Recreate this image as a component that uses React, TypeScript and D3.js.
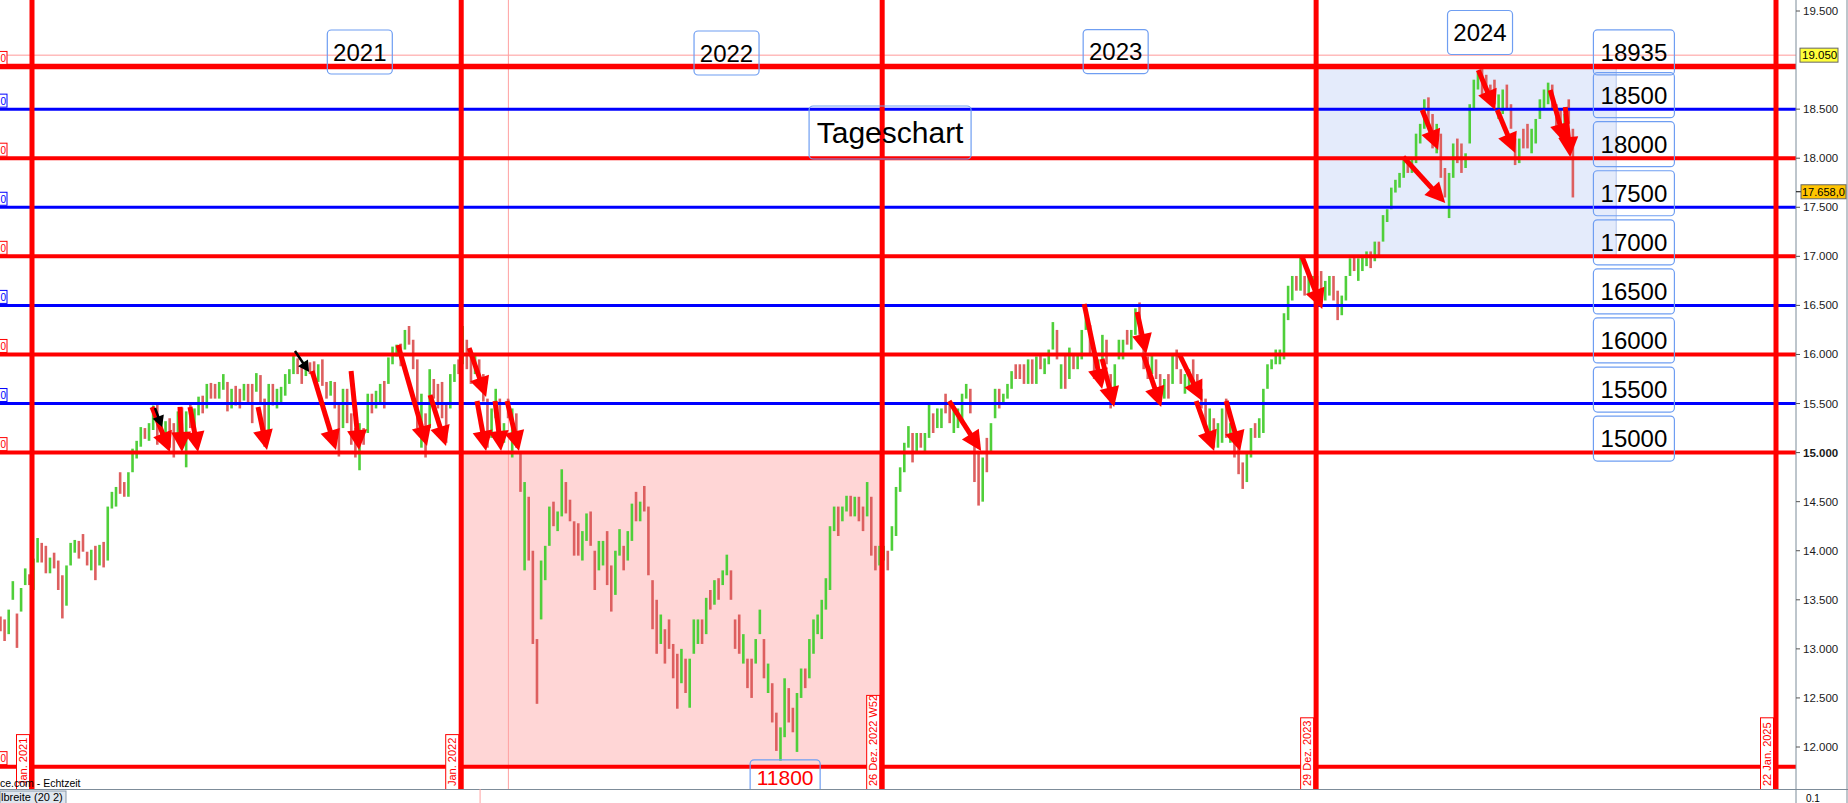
import React from "react";
import * as d3 from "d3";

// ---------- DATA ----------
// Half-week price bars (DAX), starting week of 7 Dec 2020, two bars per week, up to 2 Aug 2024
const barHigh: number[] = [
  // Dec 2020
  13330, 13300, 13400, 13690, 13360, 13620, 13820, 13760,
  // 2021
  13920, 14130, 14080, 14050, 13930, 13980, 13900, 13750,
  13850, 14080, 14110, 14100, 14170, 13990, 14010, 14050,
  14060, 14090, 14450, 14600, 14650, 14800, 14700, 14800, 15040, 15120,
  15260, 15250, 15300, 15480, 15500, 15340, 15320, 15350,
  15300, 15420, 15460, 15420, 15500, 15450, 15570, 15580, 15700, 15710,
  15700, 15720, 15800, 15720, 15650, 15680, 15650, 15700,
  15700, 15700, 15810, 15790, 15550, 15700, 15700, 15650,
  15670, 15800, 15850, 15990, 15960, 15880, 15930, 15920, 15930, 15900,
  15950, 15720, 15730, 15720, 15500, 15650, 15650, 15400,
  15250, 15300, 15250, 15600, 15600, 15630, 15700, 15730,
  15970, 16080, 16100, 16110, 16250, 16290, 16150, 15950, 15600, 15400,
  15850, 15750, 15700, 15720, 15500, 15800, 15900, 15950,
  // 2022
  16290, 16150, 16050, 16000, 15950, 15800, 15550, 15450, 15650, 15550,
  15300, 15550, 15450, 15400, 15000, 14700, 14550, 14000,
  13100, 13900, 14050, 14450, 14500, 14400, 14830, 14700,
  14520, 14300, 14280, 14200, 14380, 14400, 14000, 14100,
  14100, 14200, 13850, 14000, 14220, 14050, 14200, 14480, 14600, 14500,
  14660, 14450, 13700, 13500, 13350, 13200, 13300, 13050,
  12950, 13000, 12900, 12900, 13300, 13300, 13300, 13520,
  13600, 13700, 13720, 13800, 13960, 13800, 13300, 13350, 13150, 12900,
  12900, 13100, 13400, 13100, 12850, 12650, 12350, 12200,
  12700, 12600, 12400, 12550, 12800, 12800, 13100, 13300, 13350, 13500,
  13720, 14250, 14450, 14450, 14450, 14560, 14560, 14550,
  14550, 14450, 14700, 14550, 14050, 14050, 14050, 14000,
  // 2023
  14250, 14650, 14850, 15100, 15270, 15200, 15200, 15200, 15200, 15500,
  15400, 15450, 15450, 15600, 15500, 15450, 15450, 15600,
  15700, 15650, 15100, 15000, 14950, 15150, 15300, 15650,
  15650, 15600, 15700, 15830, 15900, 15900, 15900, 15950,
  15950, 15980, 16000, 15960, 16050, 16330, 16250, 15900, 16000, 16070,
  16000, 16000, 16250, 16430, 16300, 16050, 15950, 16200,
  16150, 15800, 15900, 16150, 16150, 16250, 16250, 16470, 16530, 16100,
  15980, 16000, 15950, 15800, 15750, 15800, 16000, 16050,
  15850, 15800, 15850, 15950, 15800, 15650, 15550, 15450,
  15350, 15300, 15450, 15550, 15300, 15250, 15050, 14900, 15000, 15250,
  15300, 15350, 15650, 15900, 15950, 16050, 16050, 16420,
  16700, 16800, 16800, 17010, 16800, 16800, 16800, 16800,
  // 2024
  16850, 16750, 16800, 16800, 16650, 16600, 16800, 16980, 17000, 16980,
  17000, 17050, 17050, 17150, 17150, 17420, 17480, 17700,
  17780, 17850, 17980, 18000, 18000, 18250, 18350, 18600,
  18620, 18450, 18350, 18250, 17900, 17850, 18150, 18200, 18150, 18050,
  18550, 18800, 18870, 18930, 18850, 18750, 18800, 18650,
  18700, 18750, 18550, 18200, 18200, 18300, 18350, 18300,
  18400, 18600, 18700, 18770, 18750, 18550, 18500, 18450, 18600, 18300,
];

const barLow: number[] = [
  // Dec 2020
  13180, 13080, 13150, 13500, 13010, 13380, 13650, 13650,
  // 2021
  13600, 13880, 13880, 13770, 13770, 13820, 13600, 13310,
  13440, 13850, 13980, 13920, 13990, 13850, 13800, 13700,
  13850, 13830, 13900, 14430, 14450, 14580, 14550, 14550, 14800, 14940,
  15060, 15140, 15120, 15230, 15080, 15120, 15200, 15050,
  14950, 15150, 15050, 14850, 15250, 15150, 15380, 15400, 15450, 15550,
  15550, 15550, 15640, 15420, 15450, 15480, 15450, 15530,
  15500, 15300, 15620, 15500, 15060, 15200, 15480, 15450,
  15500, 15580, 15700, 15800, 15800, 15700, 15780, 15800, 15780, 15720,
  15680, 15550, 15580, 15450, 14960, 15250, 15300, 15080,
  14950, 14820, 15080, 15200, 15400, 15450, 15500, 15450,
  15700, 15900, 15980, 15880, 16050, 16100, 15850, 15250, 15050, 14950,
  15250, 15550, 15450, 15350, 15100, 15450, 15720, 15800,
  // 2022
  15900, 15850, 15700, 15800, 15700, 15520, 15050, 15150, 15350, 15100,
  15100, 15350, 14950, 15050, 14600, 13800, 13900, 13050,
  12440, 13300, 13700, 14050, 14250, 14200, 14350, 14380,
  14300, 13950, 13950, 13900, 14100, 14050, 13600, 13800,
  13850, 13650, 13380, 13550, 13950, 13800, 13900, 14100, 14300, 14300,
  14400, 13750, 13200, 12950, 13050, 12850, 13000, 12700,
  12390, 12650, 12550, 12400, 12950, 13050, 13050, 13150,
  13400, 13450, 13500, 13650, 13750, 13500, 13000, 12950, 12850, 12600,
  12500, 12850, 13150, 12700, 12550, 12250, 11960, 11860,
  12100, 12250, 12150, 11950, 12500, 12600, 12700, 12950, 13150, 13100,
  13400, 13600, 14200, 14150, 14300, 14400, 14350, 14350,
  14300, 14200, 14350, 13950, 13800, 13850, 13900, 13800,
  // 2023
  14000, 14150, 14600, 14800, 15050, 14900, 15000, 15050, 15000, 15150,
  15200, 15250, 15250, 15400, 15300, 15200, 15250, 15300,
  15550, 15400, 14700, 14460, 14500, 14800, 15000, 15350,
  15450, 15500, 15550, 15650, 15750, 15750, 15700, 15700,
  15700, 15700, 15850, 15800, 15900, 16050, 15950, 15650, 15650, 15750,
  15850, 15850, 15950, 16250, 16000, 15750, 15750, 15900,
  15900, 15450, 15650, 15950, 15950, 16100, 16050, 16200, 16200, 15850,
  15750, 15800, 15750, 15500, 15550, 15550, 15700, 15850,
  15700, 15600, 15650, 15650, 15600, 15450, 15250, 15150,
  15050, 15050, 15100, 15150, 15100, 14950, 14780, 14630, 14700, 14950,
  15150, 15150, 15200, 15650, 15850, 15900, 15900, 15950,
  16350, 16550, 16650, 16650, 16600, 16600, 16700, 16700,
  // 2024
  16600, 16550, 16600, 16550, 16350, 16400, 16550, 16800, 16850, 16750,
  16850, 16900, 16880, 16950, 17000, 17150, 17350, 17480,
  17650, 17700, 17800, 17850, 17850, 17950, 18150, 18300,
  18300, 18100, 18050, 17800, 17600, 17390, 17800, 17950, 17850, 17900,
  18150, 18500, 18700, 18650, 18650, 18550, 18550, 18400,
  18450, 18500, 18300, 17930, 17950, 18100, 18100, 18050,
  18150, 18400, 18500, 18550, 18500, 18300, 18200, 18150, 18350, 17600,
];

// U = rising bar (green), D = falling bar (red)
const barDir: string = [
  "DDUUDUUD",
  "UUDDUDDD", "UUUDDDUD", "UDUUUDDUUU", "UDUUDUUD", "DUDUDUUDUD", "DUUDUDDU",
  "DDUDDUDU", "UUUUDDUDDU", "DDUDDUDD", "DUDUDUUD", "UUUDUDDDUD", "UDDDDUUD",
  "UDDUDDDUUD", "UDUDDUDD", "DUUUDUUD", "DDDUUDDU", "UDDUUDUUDU", "DDDDUDDD",
  "DUDUUUDU", "DUDUUDDDUD", "DUUDUDDU", "UDDUUDUUUU", "UUUDUUDU", "DDUDDUUD",
  "UUUUUDUDUU", "DUUDDUUU", "UDDDUDUU", "DUUUDDDU", "DUDUUUDUDU", "DUUUDDUU",
  "DDUUUDUUDD", "DUDDUDUD", "DUUDDDDU", "DUUDUDDDUU", "DUUUUUUU", "UUDUDUUD",
  "DUUDDUUUDU", "UUDUDUUU", "UUUDUUUU", "DDUDDUUDDU", "UUUDDDDU", "UDDDUDDU",
  "UUUUDDDUDD",
].join("");

const firstBarDay = -26.75; // days relative to 4 Jan 2021
const barStepDays = 3.5;

const redLevels = [18935, 18000, 17000, 16000, 15000, 11800];
const blueLevels = [18500, 17500, 16500, 15500];
const boxLevels = [18935, 18500, 18000, 17500, 17000, 16500, 16000, 15500, 15000];
const pinkLevel = 19050;
const lastPrice = 17658;

const yTicks = [19500, 18500, 18000, 17500, 17000, 16500, 16000, 15500, 15000, 14500, 14000, 13500, 13000, 12500, 12000];

// separator lines (days from 4 Jan 2021) and their date flags
const sepDays = [0, 364, 721, 1089, 1479];
const sepLabels = ["Jan. 2021", "Jan. 2022", "26 Dez. 2022 W52", "29 Dez. 2023", "22 Jan. 2025"];
const cursorDay = 404;

// shaded zones: [day0, day1, low, high]
const zones: [number, number, number, number][] = [
  [364, 719, 11800, 15000],
  [1089, 1343.5, 17000, 18935],
];

// year labels
const yearLabels = ["2021", "2022", "2023", "2024"];
const yearDays = [278, 589, 919, 1228];
const yearVals = [19082, 19072, 19087, 19281];

// red arrows [day1, value1, day2, value2]
const arrowsRed: [number, number, number, number][] = [
  [101.8, 15465, 117, 15006],
  [125.5, 15465, 127.2, 15006],
  [134, 15465, 140.8, 15006],
  [191.7, 15465, 199.3, 15026],
  [237.5, 15832, 257.8, 15026],
  [270.6, 15832, 277.4, 15026],
  [310.4, 16096, 335, 15067],
  [337.6, 15587, 351.1, 15067],
  [370.7, 16066, 385.1, 15567],
  [377.4, 15526, 385.1, 15016],
  [392.7, 15526, 397.8, 15016],
  [402.9, 15526, 413, 15016],
  [777.8, 15526, 804.9, 15016],
  [892.3, 16514, 907.5, 15648],
  [907.5, 15954, 917.7, 15465],
  [937.2, 16433, 944.9, 16005],
  [942.3, 16005, 957.6, 15465],
  [972.9, 16005, 992.4, 15526],
  [987.3, 15526, 1002.5, 15016],
  [1012.7, 15526, 1024.6, 15016],
  [1077.2, 16993, 1094.2, 16463],
  [1179, 18491, 1192.5, 18084],
  [1162.9, 18012, 1198.5, 17544],
  [1226.5, 18899, 1240.9, 18491],
  [1242.6, 18491, 1257.8, 18053],
  [1287.5, 18695, 1300.3, 18150],
  [1300.3, 18522, 1304.5, 18012],
];
const arrowsBlack: [number, number, number, number][] = [
  [104.3, 15455, 110.3, 15261],
  [223, 16035, 235, 15821],
];

// ---------- LAYOUT ----------
const W = 1848;
const H = 803;
const PR = 1796; // plot right
const PB = 789; // plot bottom
const FONT = "'Liberation Sans', Arial, Helvetica, sans-serif";

const fmtDE = (v: number) => d3.format(",.0f")(v).replace(/,/g, ".");

function Arrow({ x1, y1, x2, y2, color, w, head, hw }: any) {
  const a = Math.atan2(y2 - y1, x2 - x1);
  const bx = x2 - head * Math.cos(a);
  const by = y2 - head * Math.sin(a);
  const px = -Math.sin(a) * hw;
  const py = Math.cos(a) * hw;
  return (
    <g>
      <line x1={x1} y1={y1} x2={bx + Math.cos(a) * 2} y2={by + Math.sin(a) * 2} stroke={color} strokeWidth={w} />
      <polygon points={`${x2},${y2} ${bx + px},${by + py} ${bx - px},${by - py}`} fill={color} />
    </g>
  );
}

function TextBox({ cx, cy, w, h, text, size, color = "#000" }: any) {
  return (
    <g>
      <rect x={cx - w / 2} y={cy - h / 2} width={w} height={h} rx={4} fill="none" stroke="#6f9ef2" strokeWidth={1.2} />
      <text x={cx} y={cy} textAnchor="middle" dominantBaseline="central" fontSize={size} fill={color} fontFamily={FONT}>
        {text}
      </text>
    </g>
  );
}

export default function App() {
  const x = d3.scaleLinear().domain([0, 1479]).range([32, 1776]);
  const y = d3.scaleLinear().domain([12000, 19500]).range([747, 11]);

  const n = Math.min(barHigh.length, barLow.length, barDir.length);
  const bars = d3.range(n).map((i) => ({
    x: x(firstBarDay + i * barStepDays),
    hi: y(barHigh[i]),
    lo: y(barLow[i]),
    up: barDir[i] === "U",
  }));

  return (
    <svg
      width={W}
      height={H}
      style={{ position: "absolute", left: 0, top: 0, background: "#fff" }}
      fontFamily={FONT}
    >
      <defs>
        <clipPath id="plotclip">
          <rect x={0} y={0} width={PR} height={PB} />
        </clipPath>
      </defs>
      <rect x={0} y={0} width={W} height={H} fill="#fff" />

      <g clipPath="url(#plotclip)">
        {/* zones */}
        <rect
          x={x(zones[0][0])}
          y={y(zones[0][3])}
          width={x(zones[0][1]) - x(zones[0][0])}
          height={y(zones[0][2]) - y(zones[0][3])}
          fill="#ffd6d6"
          stroke="#f06a6a"
          strokeWidth={1}
        />
        <rect
          x={x(zones[1][0])}
          y={y(zones[1][3])}
          width={x(zones[1][1]) - x(zones[1][0])}
          height={y(zones[1][2]) - y(zones[1][3])}
          fill="#e4ebfb"
          stroke="#b4c6ee"
          strokeWidth={1}
        />

        {/* thin pink marker lines */}
        <line x1={0} x2={PR} y1={y(pinkLevel)} y2={y(pinkLevel)} stroke="#ff9a9a" strokeWidth={1} />
        <line x1={x(cursorDay)} x2={x(cursorDay)} y1={0} y2={PB} stroke="#ffa0a0" strokeWidth={1} />

        {/* price bars */}
        {bars.map((b, i) => (
          <line
            key={i}
            x1={b.x}
            x2={b.x}
            y1={b.hi}
            y2={b.lo}
            stroke={b.up ? "#4fcf3a" : "#dd5f5f"}
            strokeWidth={2.6}
          />
        ))}

        {/* horizontal levels */}
        {blueLevels.map((v) => (
          <line key={"b" + v} x1={0} x2={PR} y1={y(v)} y2={y(v)} stroke="#0000ff" strokeWidth={3} />
        ))}
        {redLevels.map((v, i) => (
          <line key={"r" + v} x1={0} x2={PR} y1={y(v)} y2={y(v)} stroke="#ff0000" strokeWidth={i === 0 ? 5.5 : 4} />
        ))}

        {/* vertical separators */}
        {sepDays.map((d) => (
          <line key={"v" + d} x1={x(d)} x2={x(d)} y1={0} y2={PB} stroke="#ff0000" strokeWidth={5} />
        ))}

        {/* left edge price flags */}
        {[...redLevels.map((v) => ({ v, c: "#ff0000" })), ...blueLevels.map((v) => ({ v, c: "#0000ff" }))].map((f) => (
          <g key={"lf" + f.v}>
            <rect x={-40} y={y(f.v) - 15} width={47} height={13} fill="#fff" stroke={f.c} strokeWidth={1} />
            <text x={0.5} y={y(f.v) - 4.5} fontSize={10} fill={f.c}>
              0
            </text>
          </g>
        ))}

        {/* date flags */}
        {sepLabels.map((t, i) => {
          const lx = x(sepDays[i]) - 2.5;
          const len = t.length * 5.6 + 4;
          return (
            <g key={"dl" + i}>
              <rect x={lx - 13} y={PB - len} width={13} height={len + 4} fill="#fff" stroke="#ff0000" strokeWidth={1} />
              <text
                transform={`translate(${lx - 2.5},${PB - 3}) rotate(-90)`}
                fontSize={11}
                fill="#ff0000"
                textAnchor="start"
              >
                {t}
              </text>
            </g>
          );
        })}

        {/* arrows */}
        {arrowsRed.map((a, i) => (
          <Arrow key={"ar" + i} x1={x(a[0])} y1={y(a[1])} x2={x(a[2])} y2={y(a[3])} color="#ff0000" w={5} head={20} hw={10} />
        ))}
        {arrowsBlack.map((a, i) => (
          <Arrow key={"ab" + i} x1={x(a[0])} y1={y(a[1])} x2={x(a[2])} y2={y(a[3])} color="#000" w={2.5} head={11} hw={6} />
        ))}

        {/* annotation boxes */}
        {yearLabels.map((t, i) => (
          <TextBox key={"yl" + t} cx={x(yearDays[i])} cy={y(yearVals[i])} w={65} h={44} text={t} size={24} />
        ))}
        {boxLevels.map((v) => (
          <TextBox key={"bx" + v} cx={x(1358.5)} cy={y(v) - 14} w={81} h={45} text={String(v)} size={24} />
        ))}
        <TextBox cx={x(727.7)} cy={y(18262)} w={162} h={53} text="Tageschart" size={30} />
        <TextBox cx={x(638.7)} cy={y(11686)} w={70} h={36} text="11800" size={21} color="#ff0000" />

        <text x={0} y={787} fontSize={10.5} fill="#000">
          ce.com - Echtzeit
        </text>
      </g>

      {/* axes frame */}
      <line x1={PR} x2={PR} y1={0} y2={H} stroke="#7d8c99" strokeWidth={1} />
      <line x1={0} x2={W} y1={PB + 0.5} y2={PB + 0.5} stroke="#7d8c99" strokeWidth={1} />
      <line x1={W - 1} x2={W - 1} y1={0} y2={H} stroke="#7d8c99" strokeWidth={1} />
      <line x1={x(380)} x2={x(380)} y1={PB} y2={H} stroke="#ffa0a0" strokeWidth={1} />

      {/* right axis */}
      {yTicks.map((v) => (
        <g key={"t" + v}>
          <line x1={PR} x2={PR + 4} y1={y(v)} y2={y(v)} stroke="#555" />
          <text
            x={PR + 7}
            y={y(v)}
            dominantBaseline="central"
            fontSize={11.5}
            fill="#1a1a1a"
            fontWeight={v === 15000 ? "bold" : "normal"}
          >
            {fmtDE(v)}
          </text>
        </g>
      ))}
      <rect x={PR + 4} y={y(pinkLevel) - 7} width={38} height={14} fill="#ffff3a" stroke="#666" strokeWidth={1} />
      <text x={PR + 6} y={y(pinkLevel)} dominantBaseline="central" fontSize={11.5} fill="#000">
        {fmtDE(pinkLevel)}
      </text>
      <line x1={PR} x2={PR + 5} y1={y(lastPrice)} y2={y(lastPrice)} stroke="#000" />
      <rect x={PR + 5} y={y(lastPrice) - 7} width={45} height={14} fill="#ffc400" stroke="#666" strokeWidth={1} />
      <text x={PR + 6} y={y(lastPrice)} dominantBaseline="central" fontSize={11} fill="#000">
        {fmtDE(lastPrice)},0
      </text>

      {/* bottom status */}
      <rect x={0} y={PB + 2} width={66} height={14} fill="#dfe6ee" stroke="#8a9aab" strokeWidth={1} />
      <text x={1} y={H - 2} fontSize={11} fill="#000">
        lbreite (20 2)
      </text>
      <text x={PR + 10} y={H - 1} fontSize={10} fill="#000">
        0.1
      </text>
    </svg>
  );
}
